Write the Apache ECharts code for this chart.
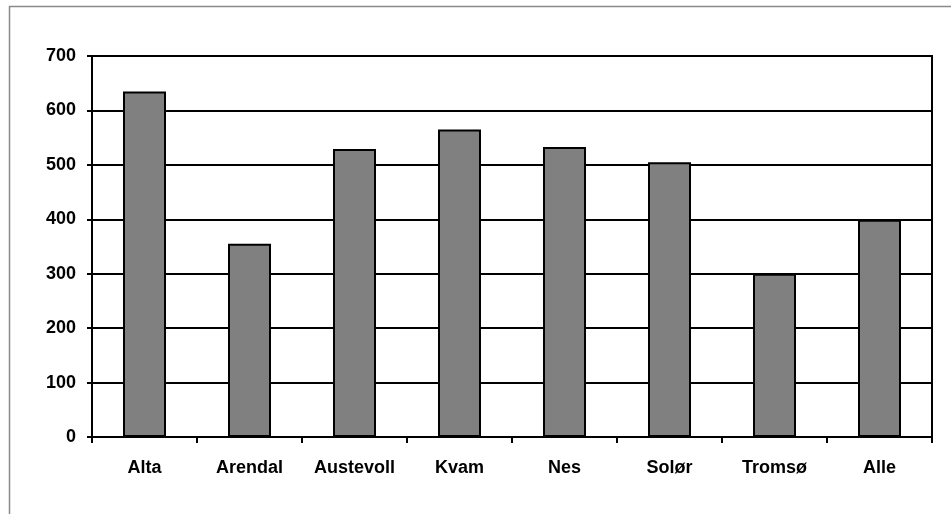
<!DOCTYPE html>
<html>
<head>
<meta charset="utf-8">
<script src="https://cdn.jsdelivr.net/npm/echarts@6/dist/echarts.min.js"></script>
<style>
  html, body { margin: 0; padding: 0; background: #fff; }
  #chart { width: 951px; height: 514px; }
</style>
</head>
<body>
<div id="chart"></div>
<script>
// Municipalities shown along the category axis
const categories = ['Alta', 'Arendal', 'Austevoll', 'Kvam', 'Nes', 'Solør', 'Tromsø', 'Alle'];
// Bar heights per municipality
const values = [635, 355, 529, 565, 533, 505, 300, 399];
// Value axis range and step
const yMin = 0;
const yMax = 700;
const yStep = 100;

const font = '"Liberation Sans", Arial, sans-serif';

const chart = echarts.init(document.getElementById('chart'), null, { renderer: 'canvas' });

chart.setOption({
  animation: false,
  backgroundColor: '#ffffff',
  graphic: [{
    type: 'rect',
    shape: { x: 9.5, y: 6.5, width: 1000, height: 600 },
    style: { fill: 'none', stroke: '#8a8a8a', lineWidth: 1.5 },
    silent: true,
    z: -10
  }],
  grid: {
    left: 92, right: 19, top: 56, bottom: 77,
    show: true,
    borderColor: '#000',
    borderWidth: 2,
    backgroundColor: 'transparent'
  },
  xAxis: {
    type: 'category',
    data: categories,
    boundaryGap: true,
    axisLine: { show: true, lineStyle: { color: '#000', width: 2 } },
    axisTick: { show: true, inside: false, length: 6, lineStyle: { color: '#000', width: 2 } },
    axisLabel: {
      color: '#000', fontFamily: font, fontWeight: 'bold', fontSize: 18,
      margin: 22, interval: 0
    },
    splitLine: { show: false }
  },
  yAxis: {
    type: 'value',
    min: yMin, max: yMax, interval: yStep,
    axisLine: { show: true, lineStyle: { color: '#000', width: 2 } },
    axisTick: { show: true, inside: false, length: 5, lineStyle: { color: '#000', width: 2 } },
    axisLabel: {
      color: '#000', fontFamily: font, fontWeight: 'bold', fontSize: 18, margin: 16
    },
    splitLine: { show: true, lineStyle: { color: '#000', width: 2 } }
  },
  series: [{
    type: 'bar',
    data: values,
    barWidth: 43,
    itemStyle: { color: '#808080', borderColor: '#000', borderWidth: 2 },
    z: 3
  }]
});
</script>
</body>
</html>
